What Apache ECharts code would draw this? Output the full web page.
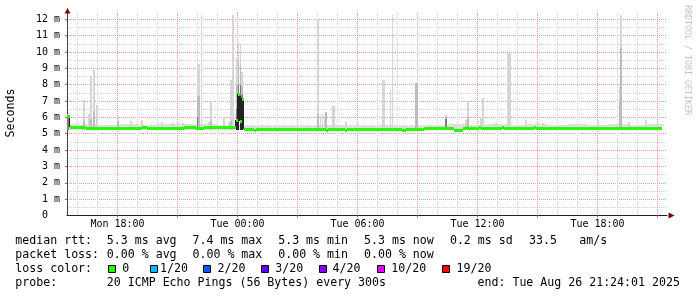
<!DOCTYPE html>
<html><head><meta charset="utf-8">
<script src="https://cdn.jsdelivr.net/npm/echarts@6/dist/echarts.min.js"></script>
<style>html,body{margin:0;padding:0;background:#fff}#c{width:697px;height:297px}</style>
</head><body><div id="c"></div>
<script>
// All times are hours since Mon Aug 25 2025 00:00 (Tue 00:00 = 24)
const X_MIN = 15.475, X_MAX = 45.475;
const Y_MAX = 12.385;
const SAMPLE = 5 / 60;           // 300 s step
const BASE_LO = 5.25;            // bottom of the smoke

const xLabelHours = [18, 24, 30, 36, 42];
const xMajorHours = [18, 21, 24, 27, 30, 33, 36, 39, 42, 45];
const xMinorHours = [16, 17, 19, 20, 22, 23, 25, 26, 28, 29, 31, 32, 34, 35, 37, 38, 40, 41, 43, 44];
const yLabelValues = [0, 1, 2, 3, 4, 5, 6, 7, 8, 9, 10, 11, 12];
const yMajorValues = [1, 2, 3, 4, 5, 6, 7, 8, 9, 10, 11, 12];
const yMinorValues = [0.5, 1.5, 2.5, 3.5, 4.5, 5.5, 6.5, 7.5, 8.5, 9.5, 10.5, 11.5];

// median rtt (ms) as [start hour, value]; last entry marks the end of data
const median = [
  [15.475, 6.08], [15.6, 5.42], [16.425, 5.38], [19.21, 5.44], [19.49, 5.38],
  [21.325, 5.41], [21.925, 5.38], [22.325, 5.39],
  [23.925, 5.85], [24.01, 7.43], [24.125, 5.8], [24.21, 7.14], [24.3, 5.28],
  [24.825, 5.24], [24.925, 5.28], [28.41, 5.25], [28.5, 5.28], [29.375, 5.25], [29.46, 5.28],
  [32.24, 5.25], [32.425, 5.28], [33.325, 5.36], [34.825, 5.25], [35.29, 5.38],
  [35.41, 5.44], [35.49, 5.38], [36.075, 5.44], [36.175, 5.38], [37.225, 5.44], [37.325, 5.38],
  [38.825, 5.44], [38.925, 5.38], [45.225, 5.38]
];

// faint smoke around the median, [start hour, top ms]; last entry marks the end
const smokeBase = [
  [15.475, 5.58], [16.0, 5.6], [17.0, 5.56], [18.0, 5.6], [19.0, 5.55], [20.0, 5.58],
  [21.0, 5.6], [22.0, 5.58], [23.0, 5.56], [24.3, 5.46], [25.5, 5.5], [26.5, 5.45],
  [27.5, 5.5], [28.5, 5.52], [29.5, 5.46], [30.5, 5.5], [31.5, 5.46], [32.5, 5.5],
  [33.5, 5.56], [34.5, 5.58], [35.5, 5.55], [36.5, 5.6], [37.5, 5.56], [38.5, 5.58],
  [39.5, 5.55], [40.5, 5.6], [41.5, 5.56], [42.5, 5.6], [43.5, 5.56], [44.5, 5.58], [45.225, 5.5]
];

// smoke spikes per 5-minute sample: [sample start hour, top ms]
const smokeLight = [
  [16.275, 7.08], [16.525, 6.21], [16.625, 8.51], [16.775, 8.92], [16.925, 6.78],
  [17.975, 6.07], [18.625, 5.8], [19.175, 5.85], [20.175, 5.7], [20.725, 5.65], [21.225, 5.65],
  [21.95, 9.27], [22.03, 9.27], [22.16, 12.28], [22.525, 5.7], [22.625, 6.98],
  [23.275, 6.0], [23.525, 5.7], [23.625, 8.31], [23.725, 12.28],
  [23.925, 9.63], [24.01, 10.49], [24.1, 10.49], [24.19, 8.8],
  [27.99, 11.98], [28.1, 6.07], [28.2, 6.21], [28.3, 6.07], [28.375, 6.33],
  [28.725, 6.72], [28.81, 6.72], [29.375, 5.7],
  [31.225, 8.31], [31.3, 8.31], [31.61, 7.7], [31.7, 12.28],
  [32.875, 8.1], [32.95, 12.3], [34.375, 6.13], [35.375, 5.85], [35.475, 6.98],
  [36.125, 6.0], [36.225, 7.19], [36.875, 5.65], [37.49, 9.94], [37.57, 9.94],
  [38.375, 5.85], [39.225, 5.65], [41.99, 5.85], [43.06, 7.84], [43.14, 12.28],
  [43.525, 5.7], [44.375, 5.85]
];
const smokeMid = [
  [15.475, 6.2], [16.275, 5.8], [16.625, 5.9], [16.775, 6.4], [17.975, 5.8],
  [21.95, 7.29], [22.03, 7.29], [22.625, 5.8], [23.625, 5.8],
  [23.925, 8.0], [24.01, 9.45], [24.1, 9.2], [24.19, 7.9],
  [27.99, 6.2], [28.375, 6.33], [32.875, 8.1], [32.95, 8.1],
  [34.375, 6.0], [35.475, 6.0], [43.06, 7.0], [43.14, 10.24]
];
const smokeDark = [
  [15.475, 6.1], [21.95, 6.0], [23.925, 6.5], [24.01, 8.0], [24.1, 8.0], [24.19, 7.4],
  [34.375, 5.9]
];
const smokeBlack = [
  [23.925, 5.9], [24.01, 7.45], [24.1, 7.3], [24.19, 7.2]
];

// legend texts and where each piece starts (px)
const rttStats = ['5.3 ms avg', '7.4 ms max', '5.3 ms min', '5.3 ms now', '0.2 ms sd', '33.5', 'am/s'];
const lossStats = ['0.00 % avg', '0.00 % max', '0.00 % min', '0.00 % now'];
const statX = [106.8, 192.5, 278.2, 364, 449.9, 529, 579.2];
const lossLabels = ['0', '1/20', '2/20', '3/20', '4/20', '10/20', '19/20'];
const lossColors = ['#26ff00', '#00b8ff', '#0059ff', '#5e00ff', '#7e00ff', '#dd00ff', '#ff0000'];
const sqX = [108, 150, 203, 261, 319, 377, 442];
const lblX = [122.3, 160, 217.5, 275.2, 332.5, 391.3, 456.5];
const probeText = '20 ICMP Echo Pings (56 Bytes) every 300s';
const endText = 'end: Tue Aug 26 21:24:01 2025';

const FONT = '"DejaVu Sans Mono", monospace';
const RED = '#e49a9a';
const GREY = '#d2d2d2';

function spikes(list) { return list.map(d => [d[0], d[0] + SAMPLE, BASE_LO, d[1]]); }
function steps(list, lo) {
  const out = [];
  for (let i = 0; i < list.length - 1; i++) out.push([list[i][0], list[i + 1][0], lo, list[i][1]]);
  return out;
}
function jumps(list) {
  const out = [];
  for (let i = 0; i < list.length - 1; i++) {
    if (Math.abs(list[i + 1][1] - list[i][1]) > 0.2) out.push([list[i + 1][0], list[i][1], list[i + 1][1]]);
  }
  return out;
}
function rectItem(params, api) {
  const p0 = api.coord([api.value(0), api.value(3)]);
  const p1 = api.coord([api.value(1), api.value(2)]);
  const x0 = Math.round(p0[0]);
  const x1 = Math.max(x0 + 1, Math.round(p1[0]));
  const y0 = Math.round(p0[1]);
  const y1 = Math.max(y0 + 1, Math.round(p1[1]));
  return { type: 'rect', shape: { x: x0, y: y0, width: x1 - x0, height: y1 - y0 },
           style: { fill: api.visual('color') } };
}
function greenItem(params, api) {
  const p0 = api.coord([api.value(0), api.value(3)]);
  const p1 = api.coord([api.value(1), api.value(3)]);
  const x0 = Math.round(p0[0]);
  const x1 = Math.max(x0 + 1, Math.round(p1[0]));
  const yc = Math.round(p0[1]);
  return { type: 'rect', shape: { x: x0, y: yc - 1, width: x1 - x0, height: 3 },
           style: { fill: api.visual('color') } };
}
function jumpItem(params, api) {
  const p0 = api.coord([api.value(0), api.value(1)]);
  const p1 = api.coord([api.value(0), api.value(2)]);
  const x = Math.round(p0[0]) - 0.5;
  return { type: 'line', shape: { x1: x, y1: Math.round(p0[1]), x2: x, y2: Math.round(p1[1]) },
           style: { stroke: api.visual('color'), lineWidth: 1 } };
}
function smokeSeries(data, color) {
  return { type: 'custom', renderItem: rectItem, data: data, clip: true,
           encode: { x: [0, 1], y: [2, 3] }, itemStyle: { color: color }, silent: true };
}
function fmtHour(h) {
  return (h < 24 ? 'Mon ' : 'Tue ') + String(h % 24).padStart(2, '0') + ':00';
}

// legend graphics
const LX = 15.3;
const rowY = [241.2, 254.7, 269.2, 282.7];
const legendFont = '11.6px ' + FONT;
function txt(x, y, s) {
  return { type: 'text', x: x, y: y, silent: true,
    style: { text: s, font: legendFont, fill: '#000', align: 'left', verticalAlign: 'middle' } };
}
const graphics = [
  { type: 'text', x: 10.5, y: 113, rotation: Math.PI / 2, silent: true,
    style: { text: 'Seconds', font: legendFont, fill: '#000', align: 'center', verticalAlign: 'middle' } },
  { type: 'text', x: 687.5, y: 60, rotation: -Math.PI / 2, silent: true,
    style: { text: 'RRDTOOL / TOBI OETIKER', font: '8.3px ' + FONT, fill: '#c4c4c4', align: 'center', verticalAlign: 'middle' } },
  { type: 'polygon', silent: true, shape: { points: [[64.5, 13.5], [70.5, 13.5], [67.5, 8]] }, style: { fill: '#7f0000' } },
  { type: 'polygon', silent: true, shape: { points: [[668.5, 212.5], [668.5, 218.5], [674.5, 215.5]] }, style: { fill: '#7f0000' } },
  txt(LX, rowY[0], 'median rtt:'),
  txt(LX, rowY[1], 'packet loss:'),
  txt(LX, rowY[2], 'loss color:'),
  txt(LX, rowY[3], 'probe:'),
  txt(statX[0], rowY[3], probeText),
  txt(477.5, rowY[3], endText)
];
rttStats.forEach((s, i) => graphics.push(txt(statX[i], rowY[0], s)));
lossStats.forEach((s, i) => graphics.push(txt(statX[i], rowY[1], s)));
lossLabels.forEach((l, i) => {
  graphics.push({ type: 'rect', silent: true, shape: { x: sqX[i] + 0.5, y: 265.5, width: 7, height: 7 },
    style: { fill: lossColors[i], stroke: '#000', lineWidth: 1 } });
  graphics.push(txt(lblX[i], rowY[2], l));
});

const chart = echarts.init(document.getElementById('c'), null, { renderer: 'canvas', width: 697, height: 297 });
chart.setOption({
  animation: false,
  backgroundColor: '#ffffff',
  grid: { left: 67, top: 13, width: 600, height: 202.5, containLabel: false },
  xAxis: [{
    type: 'value', min: X_MIN, max: X_MAX, position: 'bottom',
    axisLine: { show: true, onZero: false, lineStyle: { color: '#202020', width: 1 } },
    axisTick: { show: true, customValues: xMajorHours, length: 2, lineStyle: { color: '#de5050' } },
    axisLabel: { customValues: xLabelHours, formatter: fmtHour, fontFamily: FONT, fontSize: 10, color: '#000', margin: 4 },
    splitLine: { show: true, lineStyle: { color: RED, type: [1, 1], width: 1, opacity: 1 } }
  }, {
    type: 'value', min: X_MIN, max: X_MAX, position: 'top',
    axisLine: { show: false }, axisTick: { show: false, customValues: xMinorHours },
    axisLabel: { show: false },
    splitLine: { show: true, lineStyle: { color: GREY, type: [1, 1], width: 1, opacity: 1 } }
  }],
  yAxis: [{
    type: 'value', min: 0, max: Y_MAX, position: 'left',
    axisLine: { show: true, onZero: false, lineStyle: { color: '#404040', width: 1 } },
    axisTick: { show: true, customValues: yMajorValues, length: 2, lineStyle: { color: '#de5050' } },
    axisLabel: { customValues: yLabelValues, formatter: v => (v === 0 ? '0  ' : v + ' m'),
                 fontFamily: FONT, fontSize: 10, color: '#000', margin: 7 },
    splitLine: { show: true, lineStyle: { color: RED, type: [1, 1], width: 1, opacity: 1 } }
  }, {
    type: 'value', min: 0, max: Y_MAX, position: 'right',
    axisLine: { show: false }, axisTick: { show: false, customValues: yMinorValues },
    axisLabel: { show: false },
    splitLine: { show: true, lineStyle: { color: GREY, type: [1, 1], width: 1, opacity: 1 } }
  }],
  series: [
    smokeSeries(steps(smokeBase, BASE_LO), '#dedede'),
    smokeSeries(spikes(smokeLight), '#d6d6d6'),
    smokeSeries(spikes(smokeMid), '#bcbcbc'),
    smokeSeries(spikes(smokeDark), '#7c7c7c'),
    smokeSeries(spikes(smokeBlack), '#262626'),
    { type: 'custom', renderItem: jumpItem, data: jumps(median), clip: true, silent: true,
      encode: { x: 0, y: [1, 2] }, itemStyle: { color: '#202020' }, z: 3 },
    { type: 'custom', renderItem: greenItem, data: steps(median, 0), clip: true, silent: true,
      encode: { x: [0, 1], y: 3 }, itemStyle: { color: lossColors[0] }, z: 4 }
  ],
  graphic: graphics
});
</script>
</body></html>
